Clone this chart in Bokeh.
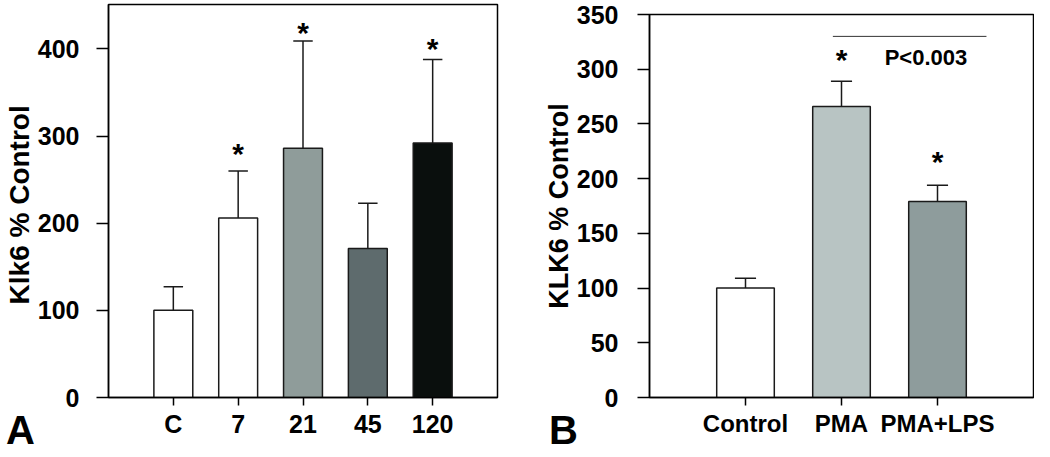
from bokeh.plotting import figure
from bokeh.layouts import row, column
from bokeh.models import Range1d, FixedTicker, Div
from bokeh.core.properties import value
from bokeh.embed import file_html
from bokeh.resources import INLINE

# ---------- Panel A data ----------
a_categories = ["C", "7", "21", "45", "120"]
a_means = [100, 206, 286, 171, 292]
a_upper = [127, 260, 409, 223, 388]
a_colors = ["#ffffff", "#ffffff", "#8f9c9a", "#5e6b6d", "#0a0f0d"]
a_star_cats = ["7", "21", "120"]
a_star_y = [288, 427, 409]
a_yticks = [0, 100, 200, 300, 400]

# ---------- Panel B data ----------
b_categories = ["Control", "PMA", "PMA+LPS"]
b_means = [100, 266, 179]
b_upper = [109, 289, 194]
b_colors = ["#ffffff", "#b8c4c3", "#8e9c9c"]
b_star_cats = ["PMA", "PMA+LPS"]
b_star_y = [315, 222]
b_yticks = [0, 50, 100, 150, 200, 250, 300, 350]
b_bracket_x = [1.91, 3.51]
b_bracket_y = 330
b_ptext = "P<0.003"
b_ptext_pos = (2.88, 311)

panel_letters = ["A", "B"]

FONT = "Liberation Sans"
BOLD = "bold"


def style(p, ticks, cats, ylabel, tick_size, cat_size, label_size, label_standoff, tick_standoff):
    p.xgrid.visible = False
    p.ygrid.visible = False
    p.outline_line_color = "black"
    p.outline_line_width = 1.5
    p.outline_line_alpha = 1.0
    for ax in (p.xaxis[0], p.yaxis[0]):
        ax.axis_line_color = "black"
        ax.axis_line_width = 1.5
        ax.major_tick_line_color = "black"
        ax.major_tick_line_width = 1.5
        ax.minor_tick_line_color = None
        ax.major_tick_in = 0
        ax.major_label_text_color = "black"
        ax.major_label_text_font_style = BOLD
        ax.major_label_text_font = FONT
    yax = p.yaxis[0]
    yax.ticker = FixedTicker(ticks=ticks)
    yax.major_tick_out = 12
    yax.major_label_standoff = tick_standoff
    yax.major_label_text_font_size = tick_size
    yax.axis_label = ylabel
    yax.axis_label_text_font = FONT
    yax.axis_label_text_font_style = BOLD
    yax.axis_label_text_font_size = label_size
    yax.axis_label_text_color = "black"
    yax.axis_label_standoff = label_standoff
    xax = p.xaxis[0]
    xax.ticker = FixedTicker(ticks=[i + 1 for i in range(len(cats))])
    xax.major_label_overrides = {i + 1: c for i, c in enumerate(cats)}
    xax.major_tick_out = 8
    xax.major_label_standoff = 4
    xax.axis_label_standoff = 0
    xax.major_label_text_font_size = cat_size


def draw_bars(p, cats, means, upper, colors, width, cap):
    xs = [i + 1 for i in range(len(cats))]
    p.vbar(x=xs, top=means, bottom=0, width=width, fill_color=colors,
           line_color="#1a1a1a", line_width=1.5)
    p.segment(x0=xs, y0=means, x1=xs, y1=upper, line_color="#1a1a1a", line_width=1.5)
    p.segment(x0=[x - cap for x in xs], y0=upper, x1=[x + cap for x in xs], y1=upper,
              line_color="#1a1a1a", line_width=1.5)
    return xs


def draw_stars(p, cats, star_cats, star_y):
    sx = [cats.index(c) + 1 for c in star_cats]
    p.text(x=sx, y=star_y, text=["*"] * len(sx), text_align="center",
           text_baseline="middle", text_font=value(FONT), text_font_style=BOLD,
           text_font_size="30px", text_color="black", y_offset=7)


def letter_div(letter, left):
    return Div(text=letter, width=40, height=30, margin=(-30, 0, 0, left),
               styles={"font-family": FONT, "font-size": "40px", "font-weight": "bold",
                       "line-height": "38px", "color": "black", "overflow": "visible"})


# ---------- Panel A ----------
pA = figure(width=540, height=441, x_range=Range1d(0, len(a_categories) + 1),
            y_range=Range1d(0, 451), output_backend="svg", toolbar_location=None,
            min_border_left=104, min_border_right=43, min_border_top=4,
            min_border_bottom=44, background_fill_color="white",
            border_fill_color="white")
style(pA, a_yticks, a_categories, "Klk6 %  Control", "25px", "25px", "28px", 0, 17)
draw_bars(pA, a_categories, a_means, a_upper, a_colors, 0.6, 0.15)
draw_stars(pA, a_categories, a_star_cats, a_star_y)

# ---------- Panel B ----------
pB = figure(width=494, height=441, x_range=Range1d(0, len(b_categories) + 1),
            y_range=Range1d(0, 350), output_backend="svg", toolbar_location=None,
            min_border_left=106, min_border_right=1, min_border_top=14,
            min_border_bottom=44, background_fill_color="white",
            border_fill_color="white")
style(pB, b_yticks, b_categories, "KLK6 % Control", "25px", "24px", "27px", 0, 19)
draw_bars(pB, b_categories, b_means, b_upper, b_colors, 0.6, 0.11)
draw_stars(pB, b_categories, b_star_cats, b_star_y)
pB.line(x=b_bracket_x, y=[b_bracket_y, b_bracket_y], line_color="#333333", line_width=1)
pB.text(x=[b_ptext_pos[0]], y=[b_ptext_pos[1]], text=[b_ptext], text_align="center",
        text_baseline="middle", text_font=value(FONT), text_font_style=BOLD,
        text_font_size="22px", text_color="black")

layout = row(column(pA, letter_div(panel_letters[0], 6)),
             column(pB, letter_div(panel_letters[1], 9)))
open("out.html", "w").write(file_html(layout, INLINE))
